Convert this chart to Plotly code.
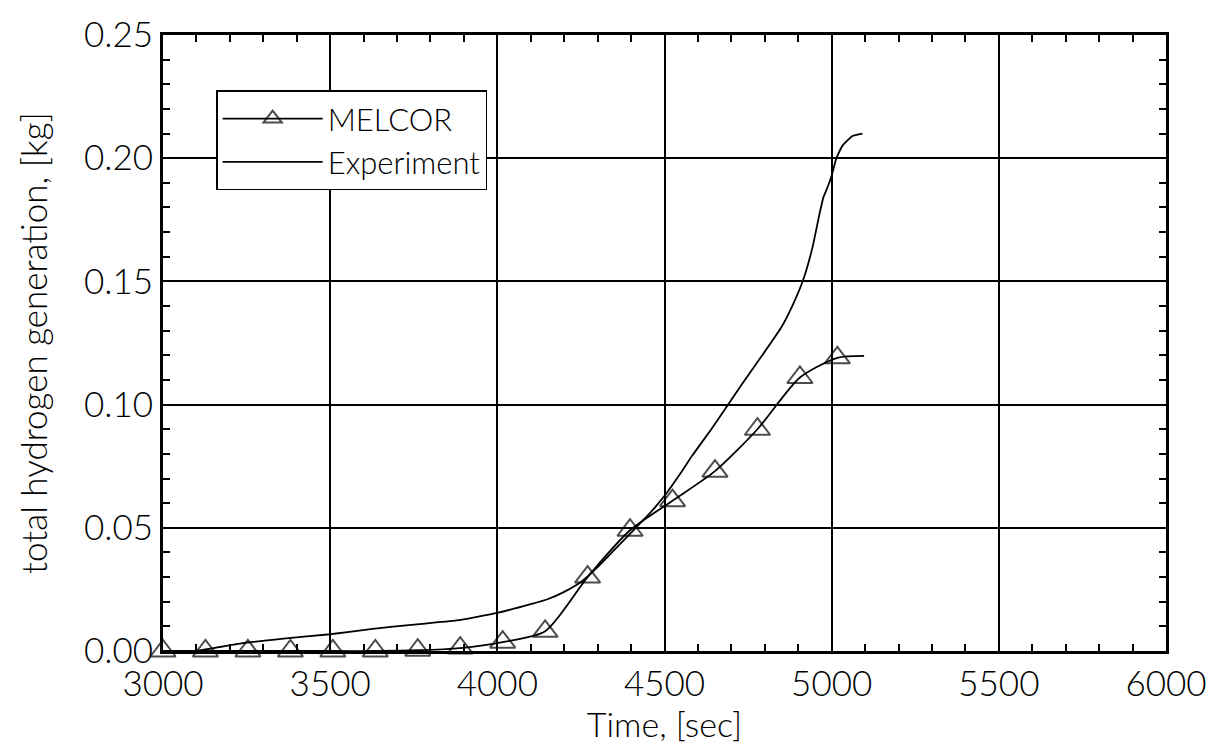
import plotly.graph_objects as go

# MELCOR (marker points, connected by a smooth line)
melcor_t = [3000, 3127, 3254, 3381, 3508, 3635, 3762, 3889, 4016, 4143,
            4270, 4397, 4524, 4651, 4778, 4905, 5017, 5097]
melcor_v = [0.0, 0.0, 0.0, 0.0, 0.0, 0.0, 0.0003, 0.0012, 0.0036, 0.008,
            0.030, 0.049, 0.061, 0.073, 0.090, 0.111, 0.119, 0.1198]
melcor_marker = [True] * 17 + [False]

# Experiment
exp_t = [3100, 3230, 3360, 3500, 3627, 3750, 3878, 4000, 4100, 4150, 4200,
         4250, 4300, 4350, 4400, 4450, 4476, 4506, 4550, 4584, 4640, 4688,
         4730, 4800, 4850, 4882, 4915, 4943, 4963, 4975, 4990, 5000, 5014,
         5032, 5062, 5092]
exp_v = [0.0, 0.003, 0.005, 0.0068, 0.009, 0.0107, 0.0124, 0.0155, 0.019,
         0.021, 0.024, 0.028, 0.034, 0.041, 0.048, 0.055, 0.059, 0.064,
         0.0725, 0.0795, 0.090, 0.0995, 0.108, 0.1215, 0.1315, 0.140, 0.1507,
         0.164, 0.177, 0.184, 0.189, 0.193, 0.200, 0.205, 0.209, 0.210]

x_ticks = [3000, 3500, 4000, 4500, 5000, 5500, 6000]
y_ticks = [0.00, 0.05, 0.10, 0.15, 0.20, 0.25]

FONT = "Lato"
FW = 300

fig = go.Figure()
fig.add_trace(go.Scatter(
    x=melcor_t, y=melcor_v, name="MELCOR",
    mode="lines+markers", cliponaxis=False,
    line=dict(color="black", width=1.8, shape="spline", smoothing=0.7),
    marker=dict(symbol="triangle-up-open",
                size=[22 if m else 0 for m in melcor_marker],
                color="black", line=dict(width=2, color="black")),
))
fig.add_trace(go.Scatter(
    x=exp_t, y=exp_v, name="Experiment",
    mode="lines",
    line=dict(color="black", width=1.8, shape="spline", smoothing=0.4),
))

axis_common = dict(
    showline=True, linecolor="black", linewidth=3, mirror="ticks",
    ticks="inside", ticklen=8, tickwidth=2, tickcolor="black",
    showgrid=True, gridcolor="black", gridwidth=2,
    zeroline=False,
    tickfont=dict(family=FONT, size=35, color="black", weight=FW),
)

fig.update_xaxes(
    range=[3000, 6000], tickvals=x_ticks,
    ticktext=[str(v) for v in x_ticks],
    minor=dict(dtick=100, ticks="inside", ticklen=7, tickwidth=2,
               tickcolor="black", showgrid=False),
    title=dict(text="Time, [sec]",
               font=dict(family=FONT, size=34, color="black", weight=FW),
               standoff=4),
    **axis_common,
)
fig.update_yaxes(
    range=[0, 0.25], tickvals=y_ticks,
    ticktext=[f"{v:.2f}" for v in y_ticks],
    minor=dict(dtick=0.01, ticks="inside", ticklen=7, tickwidth=2,
               tickcolor="black", showgrid=False),
    title=dict(text="total hydrogen generation, [kg]",
               font=dict(family=FONT, size=35, color="black", weight=FW),
               standoff=26),
    **axis_common,
)

fig.update_layout(
    width=1219, height=751,
    margin=dict(l=163, r=52, t=24, b=100),
    paper_bgcolor="white", plot_bgcolor="white",
    font=dict(family=FONT, color="black", weight=FW),
    legend=dict(
        x=0.053, y=0.91, xanchor="left", yanchor="top",
        bgcolor="white", bordercolor="black", borderwidth=1.5,
        font=dict(family=FONT, size=31, color="black", weight=FW),
        itemwidth=100, tracegroupgap=0,
    ),
)

fig.write_html("out.html")
